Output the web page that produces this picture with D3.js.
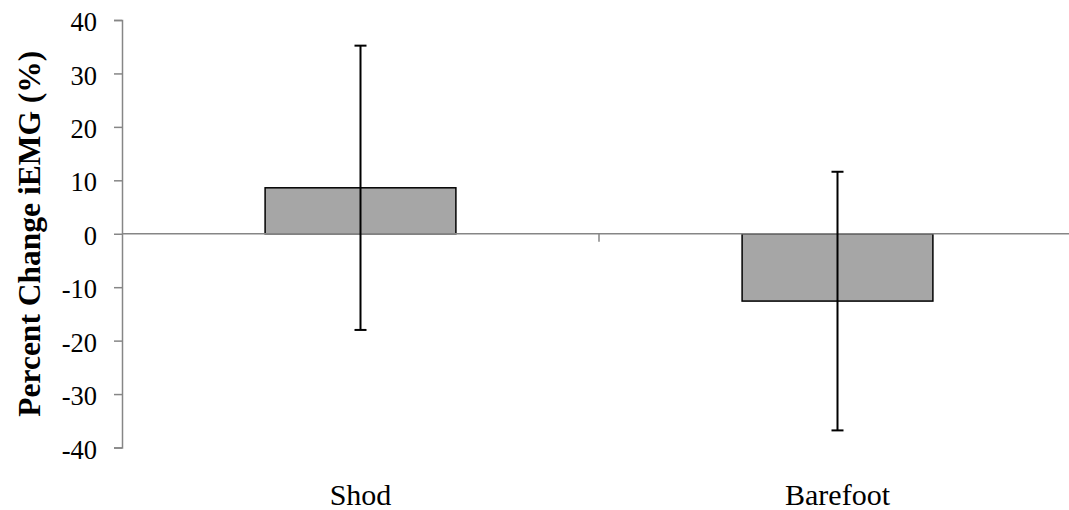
<!DOCTYPE html>
<html>
<head>
<meta charset="utf-8">
<script src="https://cdnjs.cloudflare.com/ajax/libs/d3/7.8.5/d3.min.js"></script>
<style>
  body { margin: 0; background: #fff; }
  svg text { font-family: "Liberation Serif", "Times New Roman", serif; fill: #000; }
</style>
</head>
<body>
<div id="viz"></div>
<script>
var categories = ["Shod", "Barefoot"];
var means = [8.6, -12.6];
var errors = [26.6, 24.2];
var yTicks = [-40, -30, -20, -10, 0, 10, 20, 30, 40];

var width = 1069, height = 510;

var svg = d3.select('#viz').append('svg')
    .attr("width", width)
    .attr("height", height);

var y = d3.scaleLinear()
    .domain([-40, 40])
    .range([447.5, 20]);

var x = d3.scaleBand()
    .domain(categories)
    .range([122, 1076])
    .padding(0);

var barW = x.bandwidth() * 0.4;
var axisColor = "#868686";

// y axis
var yAxis = svg.append("g")
    .attr("transform", "translate(122,0)")
    .call(d3.axisLeft(y).tickValues(yTicks).tickSize(8).tickPadding(17)
        .tickFormat(function(d) { return String(d); }));
yAxis.select(".domain").attr("stroke", axisColor).attr("stroke-width", 1.5);
yAxis.selectAll(".tick line").attr("stroke", axisColor).attr("stroke-width", 1.5);
yAxis.selectAll(".tick text")
    .attr("font-family", null)
    .attr("dy", "0.4em")
    .style("font-size", "26.5px")
    .attr("fill", "#000");

// bars
svg.selectAll("rect.bar")
    .data(means)
    .enter().append("rect")
        .attr("class", "bar")
        .attr("x", function(d, i) { return x(categories[i]) + (x.bandwidth() - barW) / 2; })
        .attr("y", function(d) { return y(Math.max(0, d)); })
        .attr("width", barW)
        .attr("height", function(d) { return Math.abs(y(d) - y(0)); })
        .attr("fill", "#a6a6a6")
        .attr("stroke", "#000")
        .attr("stroke-width", 1.5);

// x axis at zero
svg.append("line")
    .attr("x1", 122).attr("x2", width)
    .attr("y1", y(0)).attr("y2", y(0))
    .attr("stroke", axisColor).attr("stroke-width", 1.5);

// tick between categories
svg.append("line")
    .attr("x1", x(categories[1])).attr("x2", x(categories[1]))
    .attr("y1", y(0)).attr("y2", y(0) + 8)
    .attr("stroke", axisColor).attr("stroke-width", 1.5);

// error bars
var eb = svg.selectAll("g.err")
    .data(means)
    .enter().append("g")
        .attr("class", "err")
        .attr("transform", function(d, i) { return "translate(" + (x(categories[i]) + x.bandwidth() / 2) + ",0)"; });

eb.append("line")
    .attr("y1", function(d, i) { return y(d + errors[i]); })
    .attr("y2", function(d, i) { return y(d - errors[i]); })
    .attr("stroke", "#000").attr("stroke-width", 2);
eb.append("line")
    .attr("x1", -6).attr("x2", 6)
    .attr("y1", function(d, i) { return y(d + errors[i]); })
    .attr("y2", function(d, i) { return y(d + errors[i]); })
    .attr("stroke", "#000").attr("stroke-width", 2);
eb.append("line")
    .attr("x1", -6).attr("x2", 6)
    .attr("y1", function(d, i) { return y(d - errors[i]); })
    .attr("y2", function(d, i) { return y(d - errors[i]); })
    .attr("stroke", "#000").attr("stroke-width", 2);

// category labels
svg.selectAll("text.cat")
    .data(categories)
    .enter().append("text")
        .attr("class", "cat")
        .attr("x", function(d) { return x(d) + x.bandwidth() / 2; })
        .attr("y", 505)
        .attr("text-anchor", "middle")
        .style("font-size", "30px")
        .text(function(d) { return d; });

// y title
svg.append("text")
    .attr("transform", "translate(40," + y(0) + ") rotate(-90)")
    .attr("text-anchor", "middle")
    .style("font-size", "31.5px")
    .style("font-weight", "bold")
    .text("Percent Change iEMG (%)");
</script>
</body>
</html>
